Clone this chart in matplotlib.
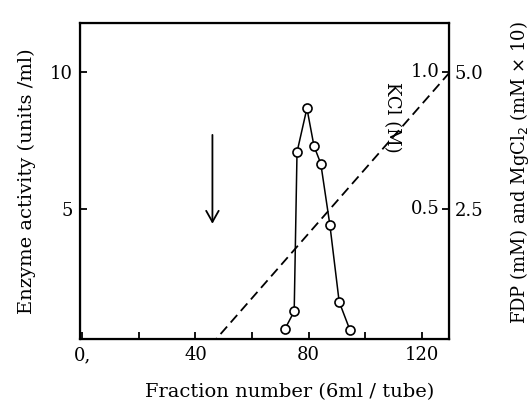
import matplotlib.pyplot as plt

plt.rcParams["font.family"] = ["DejaVu Serif"]

# enzyme activity profile
fraction = [71.6, 74.9, 75.9, 79.4, 81.9, 84.3, 87.5, 90.8, 94.6]
activity = [0.6, 1.25, 7.07, 8.67, 7.29, 6.65, 4.42, 1.6, 0.57]

# KCl gradient (M)
kcl_fraction = [45.3, 130]
kcl_conc = [0.0, 1.0]

# sample application
arrow_fraction = 46
arrow_top = 7.8
arrow_bottom = 4.35

x_ticks = [0, 20, 40, 60, 80, 100, 120]
x_labels = ["0,", "", "40", "", "80", "", "120"]
y_ticks = [5, 10]
right_ticks = [0.5, 1.0]
right_outer = ["2.5", "5.0"]
right_inner = ["0.5", "1.0"]

fig = plt.figure(figsize=(5.31, 4.12), dpi=100)
ax = fig.add_axes([0.1507, 0.1765, 0.6953, 0.7685])

ax.plot(fraction, activity, color="black", lw=1.1, marker="o",
        markersize=6.5, markerfacecolor="white", markeredgewidth=1.2,
        zorder=3)

ax.annotate("", xy=(arrow_fraction, arrow_bottom),
            xytext=(arrow_fraction, arrow_top),
            arrowprops=dict(arrowstyle="->,head_length=0.8,head_width=0.45",
                            color="black", lw=1.3))

ax.set_xlim(-0.8, 129.7)
ax.set_ylim(0.23, 11.8)
ax.set_xticks(x_ticks)
ax.set_xticklabels(x_labels)
ax.set_yticks(y_ticks)
ax.tick_params(direction="in", length=5, width=1.3, labelsize=13, pad=5)
for s in ax.spines.values():
    s.set_linewidth(1.6)

ax.set_xlabel("Fraction number (6ml / tube)", fontsize=14)
ax.xaxis.set_label_coords(0.569, -0.138)
ax.set_ylabel("Enzyme activity (units /ml)", fontsize=14, labelpad=10)

ax2 = ax.twinx()
ax2.set_ylim(0.023, 1.18)
ax2.plot(kcl_fraction, kcl_conc, color="black", lw=1.3,
         linestyle=(0, (5.5, 3)))
ax2.set_yticks(right_ticks)
ax2.set_yticklabels(right_outer)
ax2.tick_params(direction="in", length=5, width=1.3, labelsize=13, pad=4)
for t, lab in zip(right_ticks, right_inner):
    ax2.text(0.975, t, lab, transform=ax2.get_yaxis_transform(),
             ha="right", va="center", fontsize=13)

ax2.text(0.845, 0.7, "KCl (M)", transform=ax2.transAxes, rotation=-90,
         ha="center", va="center", fontsize=13)
fig.text(0.978, 0.582, r"FDP (mM) and MgCl$_2$ (mM $\times$ 10)",
         rotation=90, ha="center", va="center", fontsize=13)

fig.savefig("out.png", dpi=100)
